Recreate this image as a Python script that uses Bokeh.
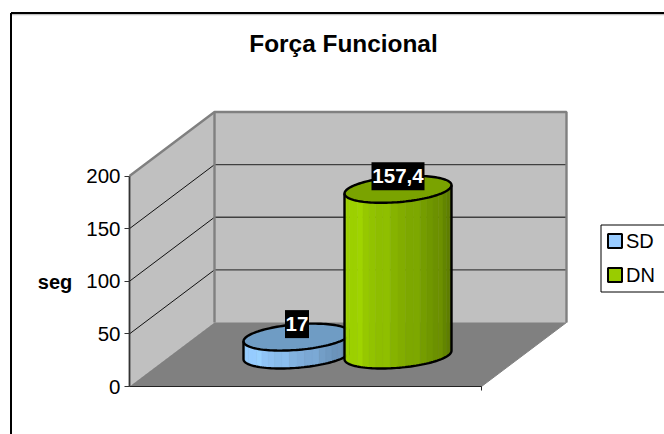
import numpy as np
from bokeh.core.properties import value
from bokeh.embed import file_html
from bokeh.models import LinearAxis, FixedTicker, Range1d
from bokeh.plotting import figure
from bokeh.resources import INLINE

# Chart content
title_text = "Força Funcional"
axis_title = "seg"
series_names = ["SD", "DN"]
series_values = [17, 157.4]
value_labels = ["17", "157,4"]
tick_values = [0, 50, 100, 150, 200]
gridline_values = [50, 100, 150]

# Column appearance
light_colors = [(150, 204, 255), (156, 208, 0)]
dark_colors = [(88, 122, 155), (86, 116, 0)]
top_colors = ["#6f9cc4", "#7aa300"]
swatch_colors = ["#99ccff", "#99cc00"]
FONT = "Liberation Sans"

# Oblique projection, in screen pixels per unit and pixel offsets
PX_PER_UNIT = 1.0525
ORIGIN_X, ORIGIN_Y = 129, 386
FLOOR_W = 352
DEPTH_X, DEPTH_Y = 85, 64
AXIS_MAX = tick_values[-1]
col_center = [296.5, 397.5]
COL_A, COL_B, COL_SHEAR = 53.5, 12.8, 4.2
COL_DEPTH_PX = 31.5
label_box_w = [24, 53]


def u(px):
    """Pixel offset expressed in value units of the y scale."""
    return px / PX_PER_UNIT


p = figure(width=664, height=434, output_backend="svg", toolbar_location=None,
           x_range=Range1d(0, 664),
           y_range=Range1d(u(ORIGIN_Y - 434), u(ORIGIN_Y)),
           x_axis_type=None, y_axis_type=None, min_border=0,
           outline_line_color=None, background_fill_color="white")
p.grid.visible = False

# Outer chart border: top and left edges only
page_top = u(ORIGIN_Y - 12.5)
p.line([10.5, 10.5], [u(ORIGIN_Y - 434), page_top], line_color="black", line_width=2)
p.line([10.5, 664], [page_top, page_top], line_color="black", line_width=2)
p.line([11.5, 664], [page_top - u(1.6)] * 2, line_color="#c0c0c0", line_width=1.2)

dz = u(DEPTH_Y)
x0, x1 = ORIGIN_X, ORIGIN_X + DEPTH_X
x2, x3 = x0 + FLOOR_W, x1 + FLOOR_W

# Floor and walls
p.patch([x0, x1, x3, x2], [0, dz, dz, 0], fill_color="#808080", line_color="#808080")
p.patch([x1, x3, x3, x1], [dz, dz, dz + AXIS_MAX, dz + AXIS_MAX],
        fill_color="#c0c0c0", line_color=None)
p.patch([x0, x1, x1, x0], [0, dz, dz + AXIS_MAX, AXIS_MAX],
        fill_color="#c0c0c0", line_color=None)

# Gridlines across the side and back walls
for g in gridline_values:
    p.line([x0, x1], [g, g + dz], line_color="#111111", line_width=1)
    p.line([x1, x3], [g + dz, g + dz], line_color="#404040", line_width=1.4)

# Wall edges
p.line([x0, x1, x3, x3], [AXIS_MAX, AXIS_MAX + dz, AXIS_MAX + dz, dz],
       line_color="#808080", line_width=2.4)
p.line([x1, x1], [dz, dz + AXIS_MAX], line_color="#808080", line_width=2.4)

# Floor front edge and its end tick
p.line([x0, x2], [0, 0], line_color="#222222", line_width=1.2)
p.line([x2, x2], [0, -u(4)], line_color="#222222", line_width=1)


def rim(cx, cy, t):
    """Point on a sheared ellipse; cy is in pixels above the origin line."""
    xs = cx + COL_A * np.cos(t)
    ys = cy + COL_SHEAR * np.cos(t) + COL_B * np.sin(t)
    return xs, ys


# Cylinders, rear one first
for i, v in enumerate(series_values):
    cx = col_center[i]
    base_px = COL_DEPTH_PX
    top_px = COL_DEPTH_PX + v * PX_PER_UNIT

    # Shaded side surface built from narrow strips along the front half
    edges = np.linspace(np.pi, 2 * np.pi, 23)
    for j in range(len(edges) - 1):
        t = np.linspace(edges[j], edges[j + 1], 4)
        bx, by = rim(cx, base_px, t)
        tx, ty = rim(cx, top_px, t)
        f = j / (len(edges) - 2)
        f = max(0.0, (f - 0.2) / 0.8) ** 1.1
        c = [int(a + (b - a) * f) for a, b in zip(light_colors[i], dark_colors[i])]
        if j % 4 == 1:
            c = [min(255, int(q * 1.04)) for q in c]
        col = "#%02x%02x%02x" % tuple(c)
        p.patch(list(bx) + list(tx[::-1]), list(u(by)) + list(u(ty[::-1])),
                fill_color=col, line_color=col, line_width=0.5)

    # Outline of the side and the top face
    t_front = np.linspace(np.pi, 2 * np.pi, 60)
    bx, by = rim(cx, base_px, t_front)
    t_all = np.linspace(0, 2 * np.pi, 120)
    tx, ty = rim(cx, top_px, t_all)
    p.patch(tx, u(ty), fill_color=top_colors[i], line_color="black", line_width=2.4)
    lx, ly = rim(cx, top_px, np.array([np.pi]))
    rx, ry = rim(cx, top_px, np.array([0.0]))
    p.line([lx[0]] + list(bx) + [rx[0]],
           [u(ly[0])] + list(u(by)) + [u(ry[0])],
           line_color="black", line_width=2.4)

# Value labels on black boxes, placed from each column's value
for i, v in enumerate(series_values):
    cx = col_center[i]
    top_px = COL_DEPTH_PX + v * PX_PER_UNIT + 13
    w = label_box_w[i]
    p.quad(left=cx - w / 2, right=cx + w / 2, bottom=u(top_px - 14), top=u(top_px + 14),
           fill_color="black", line_color=None)
    p.text([cx], [u(top_px)], text=[value_labels[i]], text_color="white",
           text_font=value(FONT), text_font_style="bold", text_font_size="20.5px",
           text_align="center", text_baseline="middle")

# Title
p.text([343], [u(ORIGIN_Y - 42.5)], text=[title_text], text_color="black",
       text_font=value(FONT), text_font_style="bold", text_font_size="24.4px",
       text_align="center", text_baseline="middle")

# Legend
p.quad(left=600.5, right=670, bottom=u(ORIGIN_Y - 291.5), top=u(ORIGIN_Y - 224.5),
       fill_color="white", line_color="black", line_width=1)
for i, name in enumerate(series_names):
    cy = 240.5 + 34 * i
    p.quad(left=607.5, right=621.5, bottom=u(ORIGIN_Y - cy - 7), top=u(ORIGIN_Y - cy + 7),
           fill_color=swatch_colors[i], line_color="black", line_width=2)
    p.text([625.5], [u(ORIGIN_Y - cy)], text=[name], text_color="black",
           text_font=value(FONT), text_font_size="20px",
           text_align="left", text_baseline="middle")

# Value axis sits on the front edge of the side wall
axis = LinearAxis(fixed_location=ORIGIN_X, bounds=(0, AXIS_MAX),
                  ticker=FixedTicker(ticks=tick_values),
                  axis_label=axis_title,
                  axis_label_text_font=FONT, axis_label_text_font_style="bold",
                  axis_label_text_font_size="20px", axis_label_text_color="black",
                  axis_label_standoff=11, axis_label_orientation="horizontal",
                  major_label_text_font=FONT, major_label_text_font_size="20.5px",
                  major_label_text_color="black", major_label_standoff=4,
                  axis_line_color="#333333", axis_line_width=1.8,
                  major_tick_line_color="#333333", major_tick_out=5, major_tick_in=0,
                  minor_tick_line_color=None)
p.add_layout(axis, "left")

open("out.html", "w").write(file_html(p, INLINE))
